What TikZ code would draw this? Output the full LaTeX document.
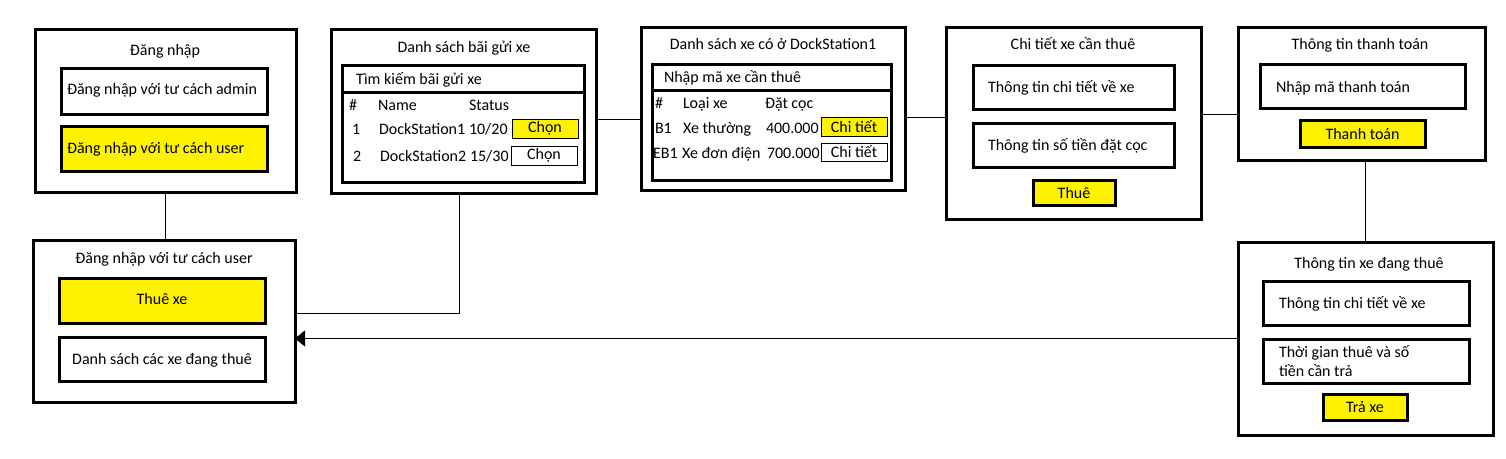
\documentclass[tikz,border=0pt]{standalone}
\usepackage{fontspec}
\setmainfont{Carlito}
\usetikzlibrary{arrows.meta}
\definecolor{btnyellow}{RGB}{255,242,0}
\tikzset{
  frame/.style={draw=black, line width=2.25pt, inner sep=0pt, outer sep=0pt, fill=white},
  yframe/.style={frame, fill=btnyellow},
  thinbtn/.style={draw=black, line width=0.75pt, inner sep=0pt, outer sep=0pt, fill=white, font=\fontsize{12}{14}\selectfont},
  ythinbtn/.style={thinbtn, fill=btnyellow},
  ybtn/.style={yframe, font=\fontsize{12}{14}\selectfont},
  lbl/.style={inner sep=0pt, outer sep=0pt, font=\fontsize{12}{14}\selectfont, text=black},
  conn/.style={draw=black, line width=0.75pt},
}
\newcommand\bx[7]{\node[#6, anchor=north west, minimum width={(#4-#2)*0.75pt}, minimum height={(#5-#3)*0.75pt}] (#1) at (#2,#3) {#7};}
\begin{document}
\begin{tikzpicture}[x=0.75pt, y=-0.75pt]
\useasboundingbox (0,0) rectangle (1506,458);
% ---------- A: Dang nhap
\bx{A}{35}{29}{296}{192}{frame}{}
\node[lbl, anchor=base] (At) at (165,55) {Đăng nhập};
\bx{A1}{61}{68}{267}{114}{frame}{}
\node[lbl, anchor=base west] (A1t) at (67,94) {Đăng nhập với tư cách admin};
\bx{A2}{61}{126}{267}{171}{yframe}{}
\node[lbl, anchor=base west] (A2t) at (67,153) {Đăng nhập với tư cách user};
% ---------- B: user
\bx{B}{33}{240}{295}{402}{frame}{}
\node[lbl, anchor=base] (Bt) at (164,263) {Đăng nhập với tư cách user};
\bx{B1}{59}{278}{265}{323}{yframe}{}
\node[lbl, anchor=base] (B1t) at (162,304) {Thuê xe};
\bx{B2}{59}{337}{265}{381}{frame}{}
\node[lbl, anchor=base] (B2t) at (162,364) {Danh sách các xe đang thuê};
% ---------- C: bai gui xe
\bx{C}{331}{29}{596}{193}{frame}{}
\node[lbl, anchor=base] (Ct) at (464,52) {Danh sách bãi gửi xe};
\bx{Cf}{342}{65}{584}{182}{frame}{}
\coordinate (Cdiv) at (342,92);
\draw[line width=2.25pt] (Cdiv) -- (Cdiv -| Cf.east);
\node[lbl, anchor=base west] (Cs) at (356,84) {Tìm kiếm bãi gửi xe};
\node[lbl, anchor=base west] (Ch1) at (349,110) {\#};
\node[lbl, anchor=base west] (Ch2) at (378,110) {Name};
\node[lbl, anchor=base west] (Ch3) at (469,110) {Status};
\node[lbl, anchor=base west] (Cr1a) at (352,134) {1};
\node[lbl, anchor=base west] (Cr1b) at (379,134) {DockStation1};
\node[lbl, anchor=base west] (Cr1c) at (469,134) {10/20};
\bx{Cb1}{512}{119}{578}{138}{ythinbtn}{Chọn}
\node[lbl, anchor=base west] (Cr2a) at (353,161) {2};
\node[lbl, anchor=base west] (Cr2b) at (380,161) {DockStation2};
\node[lbl, anchor=base west] (Cr2c) at (470,161) {15/30};
\bx{Cb2}{511}{146}{577}{165}{thinbtn}{Chọn}
% ---------- D: xe o DockStation1
\bx{D}{641}{27}{905}{190}{frame}{}
\node[lbl, anchor=base] (Dt) at (773,49) {Danh sách xe có ở DockStation1};
\bx{Df}{652}{64}{891}{180}{frame}{}
\coordinate (Ddiv) at (652,90);
\draw[line width=2.25pt] (Ddiv) -- (Ddiv -| Df.east);
\node[lbl, anchor=base west] (Ds) at (664,82) {Nhập mã xe cần thuê};
\node[lbl, anchor=base west] (Dh1) at (655,108) {\#};
\node[lbl, anchor=base west] (Dh2) at (683,108) {Loại xe};
\node[lbl, anchor=base west] (Dh3) at (765,108) {Đặt cọc};
\node[lbl, anchor=base west] (Dr1a) at (655,133) {B1};
\node[lbl, anchor=base west] (Dr1b) at (683,133) {Xe thường};
\node[lbl, anchor=base west] (Dr1c) at (766,133) {400.000};
\bx{Db1}{821}{117}{887}{136}{ythinbtn}{Chi tiết}
\node[lbl, anchor=base west] (Dr2a) at (653,158) {EB1};
\node[lbl, anchor=base west] (Dr2b) at (682,158) {Xe đơn điện};
\node[lbl, anchor=base west] (Dr2c) at (767,158) {700.000};
\bx{Db2}{821}{143}{887}{161}{thinbtn}{Chi tiết}
% ---------- E: chi tiet xe
\bx{E}{946}{27}{1201}{219}{frame}{}
\node[lbl, anchor=base] (Et) at (1073,49) {Chi tiết xe cần thuê};
\bx{E1}{973}{65}{1174}{109}{frame}{}
\node[lbl, anchor=base west] (E1t) at (988,92) {Thông tin chi tiết về xe};
\bx{E2}{973}{123}{1174}{167}{frame}{}
\node[lbl, anchor=base west] (E2t) at (988,150) {Thông tin số tiền đặt cọc};
\bx{Eb}{1033}{180}{1115}{205}{ybtn}{Thuê}
% ---------- F: thanh toan
\bx{F}{1238}{27}{1485}{160}{frame}{}
\node[lbl, anchor=base] (Ft) at (1360,49) {Thông tin thanh toán};
\bx{F1}{1260}{64}{1465}{108}{frame}{}
\node[lbl, anchor=base west] (F1t) at (1276,92) {Nhập mã thanh toán};
\bx{Fb}{1300}{120}{1425}{147}{ybtn}{Thanh toán}
% ---------- G: xe dang thue
\bx{G}{1238}{242}{1493}{435}{frame}{}
\node[lbl, anchor=base] (Gt) at (1369,268) {Thông tin xe đang thuê};
\bx{G1}{1263}{281}{1469}{325}{frame}{}
\node[lbl, anchor=base west] (G1t) at (1279,308) {Thông tin chi tiết về xe};
\bx{G2}{1263}{339}{1469}{383}{frame}{}
\node[lbl, anchor=base west] (G2t) at (1279,357) {Thời gian thuê và số};
\node[lbl, anchor=base west] (G2u) at (1279,376) {tiền cần trả};
\bx{Gb}{1323}{394}{1407}{420}{ybtn}{Trả xe}
% ---------- connectors
\draw[conn] (A.south) -- (A.south |- B.north);
\draw[conn] ([xshift=-3pt]C.south) |- ([yshift=6pt]B.east);
\draw[conn] ([yshift=-6pt]C.east) -- ([yshift=-6pt]C.east -| D.west);
\draw[conn] ([yshift=-6.4pt]D.east) -- ([yshift=-6.4pt]D.east -| E.west);
\draw[conn] ([yshift=6.75pt]E.east) -- ([yshift=6.75pt]E.east -| F.west);
\draw[conn] ([xshift=3pt]F.south) -- ([xshift=3pt]F.south |- G.north);
\draw[conn, -{Triangle[length=7.5pt,width=12pt]}] (G.west) -- (G.west -| B.east);
\end{tikzpicture}
\end{document}
